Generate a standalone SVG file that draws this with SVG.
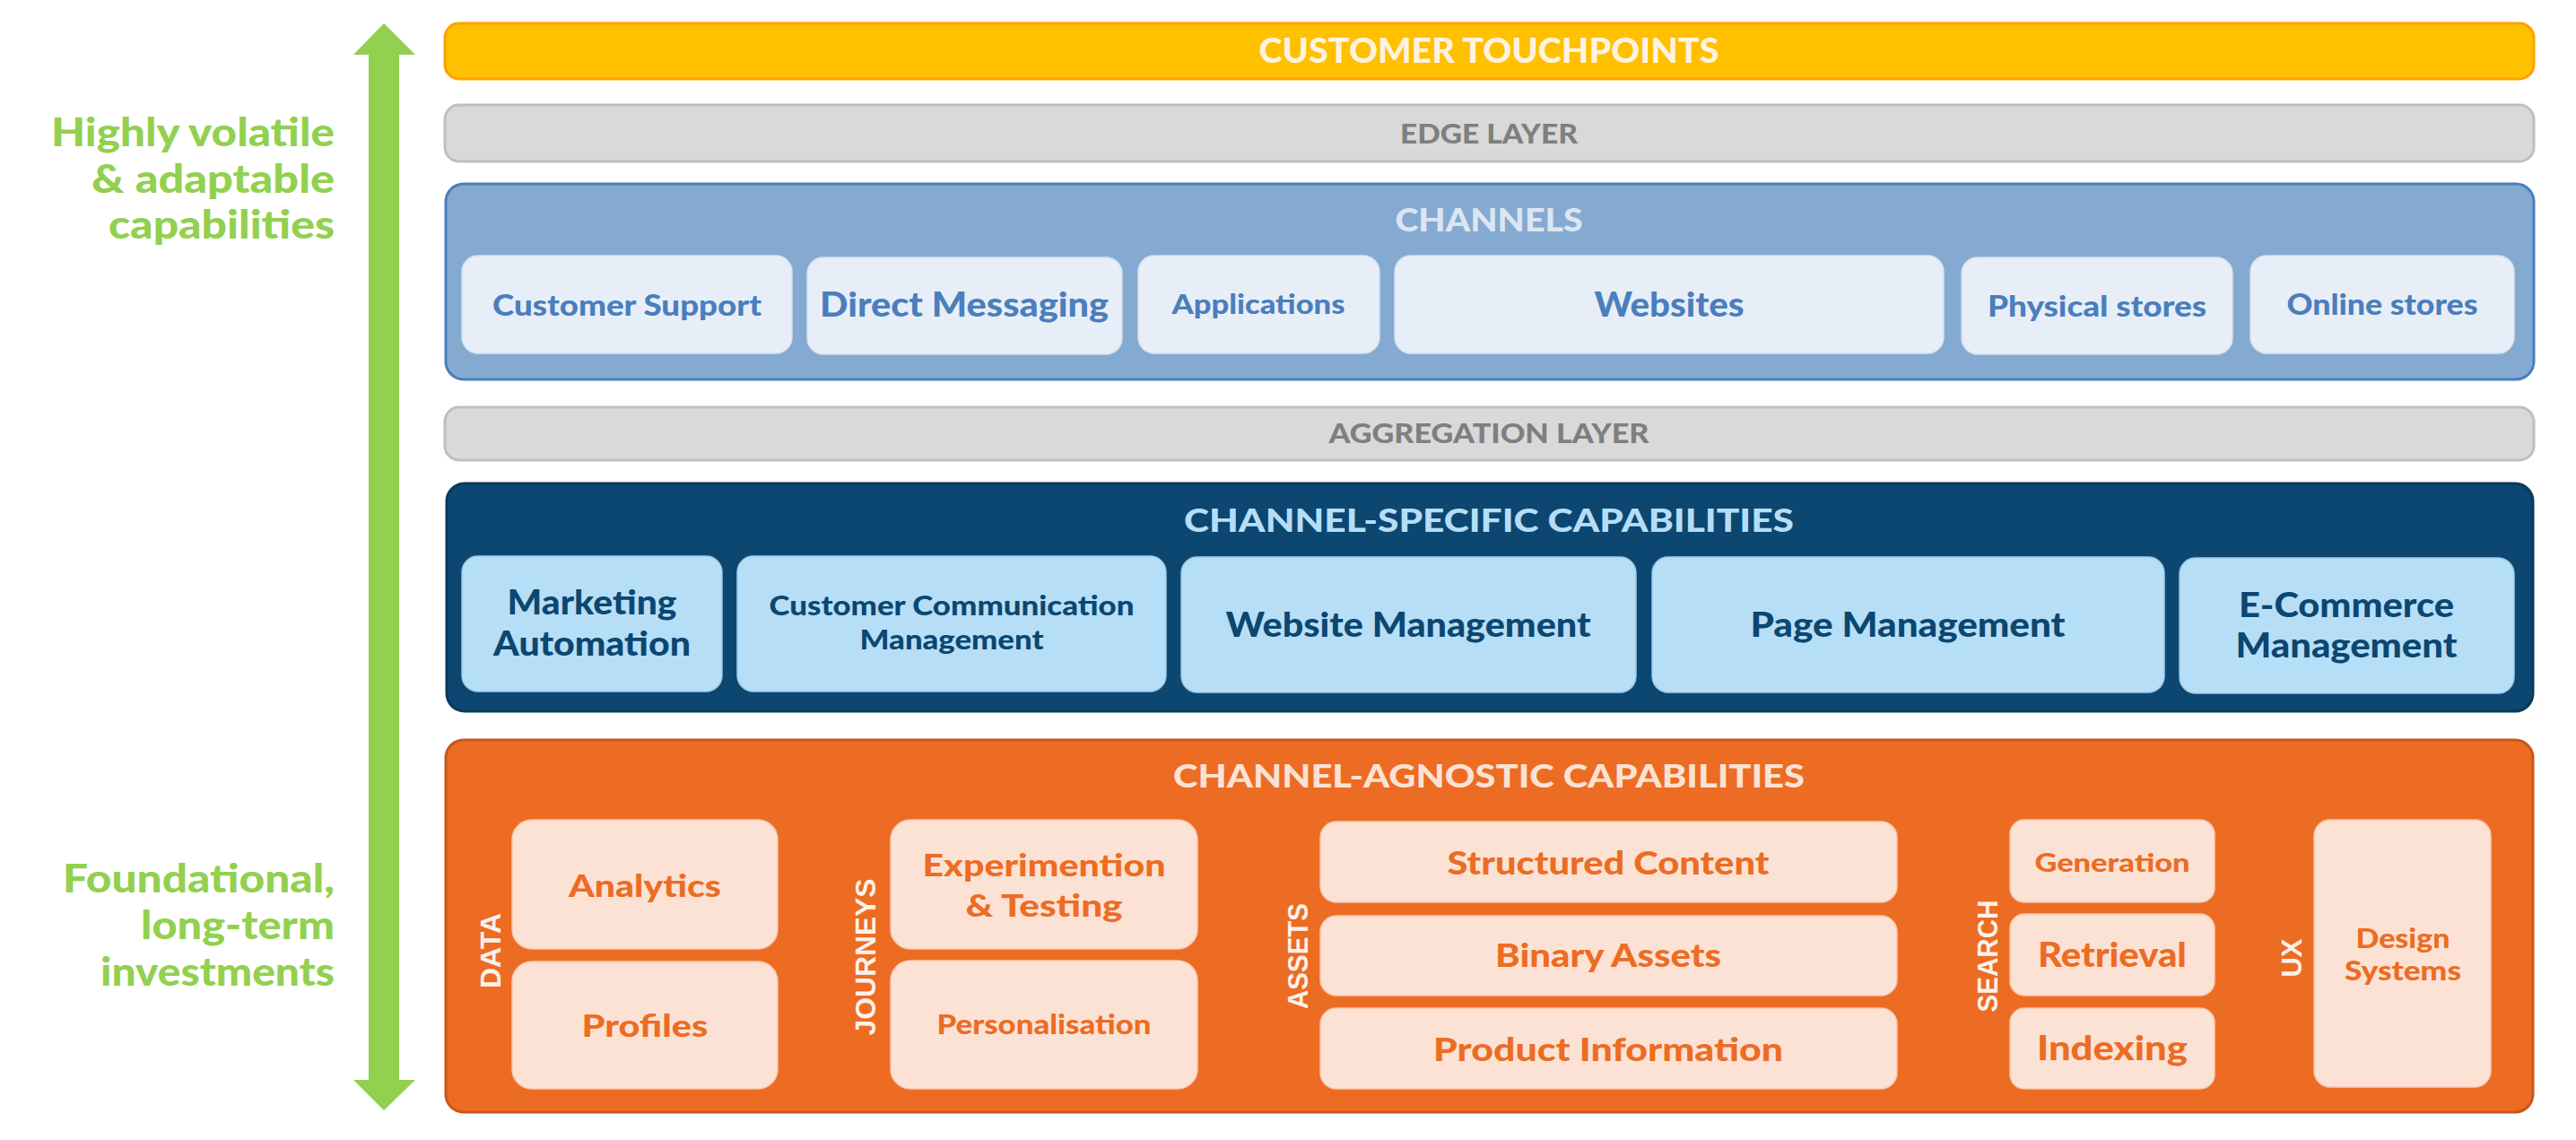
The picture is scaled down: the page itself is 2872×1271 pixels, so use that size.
<svg xmlns="http://www.w3.org/2000/svg" width="2872" height="1271" viewBox="0 0 2872 1271">
  <style>
    text { font-family: "Lato", "Open Sans", "Liberation Sans", sans-serif; font-weight: 900; text-anchor: middle; }
    .end { text-anchor: end; }
    .side { fill: #92D050; font-size: 43px; }
    .bar-touch { fill: #FFC000; stroke: #FFA000; stroke-width: 3; }
    .bar-grey { fill: #D9D9D9; stroke: #BFBFBF; stroke-width: 3; }
    .t-touch { fill: #FFF3E0; font-size: 37px; }
    .t-grey { fill: #7F7F7F; font-size: 30px; }
    .lay-chan { fill: #85AAD2; stroke: #4A7EBB; stroke-width: 3; }
    .t-chan { fill: #DCE6F2; font-size: 36px; }
    .box-chan { fill: #E7EEF7; stroke: #D5E0EE; stroke-width: 1.5; }
    .x-chan { fill: #4A7EBD; }
    .lay-spec { fill: #0B4770; stroke: #083A5C; stroke-width: 3; }
    .t-spec { fill: #B6DDF6; font-size: 36px; }
    .box-spec { fill: #B7DEF7; stroke: #9CC9E8; stroke-width: 1.5; }
    .x-spec { fill: #0B4770; }
    .lay-agn { fill: #EC6C24; stroke: #C9561A; stroke-width: 3; }
    .t-agn { fill: #FBE2D4; font-size: 36px; }
    .box-agn { fill: #FCE2D4; stroke: #F7C9AE; stroke-width: 1.5; }
    .x-agn { fill: #EC6C24; }
    .grp { fill: #FDF1EA; font-family: "Liberation Sans", "Arial", sans-serif; font-weight: 700; font-size: 31px; }
  </style>

  <!-- side axis: volatile at the top, foundational at the bottom -->
  <g id="axis">
    <path d="M428,26 L463,61 L445,61 L445,1204 L463,1204 L428,1238 L394,1204 L411,1204 L411,61 L394,61 Z" fill="#92D050"/>
    <text class="side end" x="373" y="163" textLength="316" lengthAdjust="spacingAndGlyphs">Highly volatile</text>
    <text class="side end" x="373" y="215" textLength="271" lengthAdjust="spacingAndGlyphs">&amp; adaptable</text>
    <text class="side end" x="373" y="266" textLength="252" lengthAdjust="spacingAndGlyphs">capabilities</text>
    <text class="side end" x="373" y="995" textLength="303" lengthAdjust="spacingAndGlyphs">Foundational,</text>
    <text class="side end" x="373" y="1047" textLength="216" lengthAdjust="spacingAndGlyphs">long-term</text>
    <text class="side end" x="373" y="1099" textLength="261" lengthAdjust="spacingAndGlyphs">investments</text>
  </g>

  <!-- thin bands -->
  <g id="customer-touchpoints">
    <rect class="bar-touch" x="496" y="26" width="2329" height="62" rx="16"/>
    <text class="t-touch" x="1660" y="70" textLength="513" lengthAdjust="spacingAndGlyphs">CUSTOMER TOUCHPOINTS</text>
  </g>
  <g id="edge-layer">
    <rect class="bar-grey" x="496" y="117" width="2329" height="63" rx="16"/>
    <text class="t-grey" x="1660" y="160" textLength="198" lengthAdjust="spacingAndGlyphs">EDGE LAYER</text>
  </g>

  <!-- channels -->
  <g id="channels">
    <rect class="lay-chan" x="497" y="205" width="2328" height="218" rx="20"/>
    <text class="t-chan" x="1660" y="258" textLength="209" lengthAdjust="spacingAndGlyphs">CHANNELS</text>
  </g>
  <g id="customer-support">
    <rect class="box-chan" x="515" y="285" width="368" height="109" rx="18"/>
    <text class="x-chan" x="699" y="352" font-size="33" textLength="300" lengthAdjust="spacingAndGlyphs">Customer Support</text>
  </g>
  <g id="direct-messaging">
    <rect class="box-chan" x="900" y="287" width="351" height="108" rx="18"/>
    <text class="x-chan" x="1075" y="353" font-size="37" textLength="322" lengthAdjust="spacingAndGlyphs">Direct Messaging</text>
  </g>
  <g id="applications">
    <rect class="box-chan" x="1269" y="285" width="269" height="109" rx="18"/>
    <text class="x-chan" x="1403" y="350" font-size="30" textLength="193" lengthAdjust="spacingAndGlyphs">Applications</text>
  </g>
  <g id="websites">
    <rect class="box-chan" x="1555" y="285" width="612" height="109" rx="18"/>
    <text class="x-chan" x="1861" y="353" font-size="38" textLength="167" lengthAdjust="spacingAndGlyphs">Websites</text>
  </g>
  <g id="physical-stores">
    <rect class="box-chan" x="2187" y="287" width="302" height="108" rx="18"/>
    <text class="x-chan" x="2338" y="353" font-size="33" textLength="244" lengthAdjust="spacingAndGlyphs">Physical stores</text>
  </g>
  <g id="online-stores">
    <rect class="box-chan" x="2509" y="285" width="294" height="109" rx="18"/>
    <text class="x-chan" x="2656" y="351" font-size="33" textLength="213" lengthAdjust="spacingAndGlyphs">Online stores</text>
  </g>

  <g id="aggregation-layer">
    <rect class="bar-grey" x="496" y="454" width="2329" height="59" rx="16"/>
    <text class="t-grey" x="1660" y="494" textLength="357" lengthAdjust="spacingAndGlyphs">AGGREGATION LAYER</text>
  </g>

  <!-- channel-specific capabilities -->
  <g id="channel-specific">
    <rect class="lay-spec" x="498" y="539" width="2326" height="254" rx="20"/>
    <text class="t-spec" x="1660" y="593" textLength="680" lengthAdjust="spacingAndGlyphs">CHANNEL-SPECIFIC CAPABILITIES</text>
  </g>
  <g id="marketing-automation">
    <rect class="box-spec" x="515" y="620" width="290" height="151" rx="18"/>
    <text class="x-spec" x="660" y="685" font-size="38" textLength="189" lengthAdjust="spacingAndGlyphs">Marketing</text>
    <text class="x-spec" x="660" y="731" font-size="38" textLength="220" lengthAdjust="spacingAndGlyphs">Automation</text>
  </g>
  <g id="customer-communication-management">
    <rect class="box-spec" x="822" y="620" width="478" height="151" rx="18"/>
    <text class="x-spec" x="1061" y="686" font-size="31" textLength="407" lengthAdjust="spacingAndGlyphs">Customer Communication</text>
    <text class="x-spec" x="1061" y="724" font-size="31" textLength="205" lengthAdjust="spacingAndGlyphs">Management</text>
  </g>
  <g id="website-management">
    <rect class="box-spec" x="1317" y="621" width="507" height="151" rx="18"/>
    <text class="x-spec" x="1570" y="710" font-size="37" textLength="407" lengthAdjust="spacingAndGlyphs">Website Management</text>
  </g>
  <g id="page-management">
    <rect class="box-spec" x="1842" y="621" width="571" height="151" rx="18"/>
    <text class="x-spec" x="2127" y="710" font-size="37" textLength="351" lengthAdjust="spacingAndGlyphs">Page Management</text>
  </g>
  <g id="ecommerce-management">
    <rect class="box-spec" x="2430" y="622" width="373" height="151" rx="18"/>
    <text class="x-spec" x="2616" y="688" font-size="37" textLength="240" lengthAdjust="spacingAndGlyphs">E-Commerce</text>
    <text class="x-spec" x="2616" y="733" font-size="37" textLength="247" lengthAdjust="spacingAndGlyphs">Management</text>
  </g>

  <!-- channel-agnostic capabilities -->
  <g id="channel-agnostic">
    <rect class="lay-agn" x="497" y="825" width="2327" height="415" rx="20"/>
    <text class="t-agn" x="1660" y="878" textLength="704" lengthAdjust="spacingAndGlyphs">CHANNEL-AGNOSTIC CAPABILITIES</text>
    <text class="grp" transform="translate(558,1060) rotate(-90)" textLength="84" lengthAdjust="spacingAndGlyphs">DATA</text>
    <text class="grp" transform="translate(976,1067) rotate(-90)" textLength="175" lengthAdjust="spacingAndGlyphs">JOURNEYS</text>
    <text class="grp" transform="translate(1458,1066) rotate(-90)" textLength="118" lengthAdjust="spacingAndGlyphs">ASSETS</text>
    <text class="grp" transform="translate(2227,1066) rotate(-90)" textLength="125" lengthAdjust="spacingAndGlyphs">SEARCH</text>
    <text class="grp" transform="translate(2566,1068) rotate(-90)" textLength="43" lengthAdjust="spacingAndGlyphs">UX</text>
  </g>
  <g id="analytics">
    <rect class="box-agn" x="571" y="914" width="296" height="144" rx="22"/>
    <text class="x-agn" x="719" y="1000" font-size="35" textLength="170" lengthAdjust="spacingAndGlyphs">Analytics</text>
  </g>
  <g id="profiles">
    <rect class="box-agn" x="571" y="1072" width="296" height="142" rx="22"/>
    <text class="x-agn" x="719" y="1156" font-size="35" textLength="141" lengthAdjust="spacingAndGlyphs">Profiles</text>
  </g>
  <g id="experimentation-testing">
    <rect class="box-agn" x="993" y="914" width="342" height="144" rx="22"/>
    <text class="x-agn" x="1164" y="977" font-size="35" textLength="271" lengthAdjust="spacingAndGlyphs">Experimention</text>
    <text class="x-agn" x="1164" y="1022" font-size="35" textLength="175" lengthAdjust="spacingAndGlyphs">&amp; Testing</text>
  </g>
  <g id="personalisation">
    <rect class="box-agn" x="993" y="1071" width="342" height="143" rx="22"/>
    <text class="x-agn" x="1164" y="1153" font-size="30" textLength="239" lengthAdjust="spacingAndGlyphs">Personalisation</text>
  </g>
  <g id="structured-content">
    <rect class="box-agn" x="1472" y="916" width="643" height="90" rx="18"/>
    <text class="x-agn" x="1793" y="975" font-size="36" textLength="359" lengthAdjust="spacingAndGlyphs">Structured Content</text>
  </g>
  <g id="binary-assets">
    <rect class="box-agn" x="1472" y="1021" width="643" height="89" rx="18"/>
    <text class="x-agn" x="1793" y="1078" font-size="36" textLength="252" lengthAdjust="spacingAndGlyphs">Binary Assets</text>
  </g>
  <g id="product-information">
    <rect class="box-agn" x="1472" y="1124" width="643" height="90" rx="18"/>
    <text class="x-agn" x="1793" y="1183" font-size="36" textLength="390" lengthAdjust="spacingAndGlyphs">Product Information</text>
  </g>
  <g id="generation">
    <rect class="box-agn" x="2241" y="914" width="228" height="92" rx="16"/>
    <text class="x-agn" x="2355" y="972" font-size="29" textLength="173" lengthAdjust="spacingAndGlyphs">Generation</text>
  </g>
  <g id="retrieval">
    <rect class="box-agn" x="2241" y="1019" width="228" height="91" rx="16"/>
    <text class="x-agn" x="2355" y="1078" font-size="37" textLength="166" lengthAdjust="spacingAndGlyphs">Retrieval</text>
  </g>
  <g id="indexing">
    <rect class="box-agn" x="2241" y="1124" width="228" height="90" rx="16"/>
    <text class="x-agn" x="2355" y="1182" font-size="37" textLength="168" lengthAdjust="spacingAndGlyphs">Indexing</text>
  </g>
  <g id="design-systems">
    <rect class="box-agn" x="2580" y="914" width="197" height="298" rx="18"/>
    <text class="x-agn" x="2679" y="1057" font-size="30" textLength="105" lengthAdjust="spacingAndGlyphs">Design</text>
    <text class="x-agn" x="2679" y="1093" font-size="30" textLength="130" lengthAdjust="spacingAndGlyphs">Systems</text>
  </g>

  <!-- no connectors in this layer diagram -->
  <g id="connectors"/>
</svg>
